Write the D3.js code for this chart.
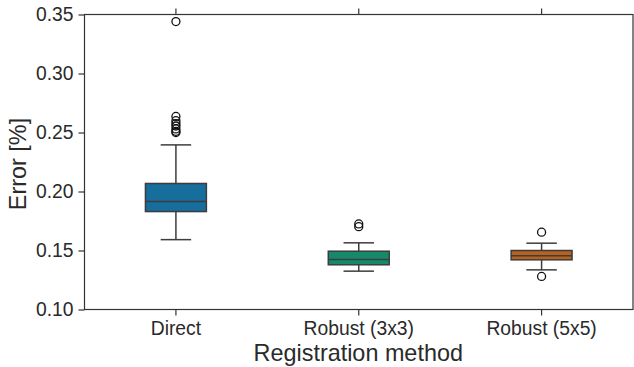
<!DOCTYPE html>
<html>
<head>
<meta charset="utf-8">
<script src="https://cdn.jsdelivr.net/npm/d3@7"></script>
<style>
  body { margin: 0; background: #fff; }
  svg text { font-family: "Liberation Sans", Arial, sans-serif; fill: #2a2a2a; }
</style>
</head>
<body>
<div id="chart"></div>
<script>
// Box statistics
const methods = ['Direct', 'Robust (3x3)', 'Robust (5x5)'];
const q1 = [0.1830, 0.1379, 0.1421];
const median = [0.1915, 0.1424, 0.1455];
const q3 = [0.2068, 0.1494, 0.1500];
const whiskerLow = [0.1592, 0.1325, 0.1336];
const whiskerHigh = [0.2395, 0.1565, 0.1562];
const outliers = [
  [0.3440, 0.2636, 0.2600, 0.2575, 0.2555, 0.2530, 0.2510, 0.2500],
  [0.1725, 0.1702],
  [0.1655, 0.1280]
];
const colors = ['#176d9c', '#158a6a', '#ba611b'];
const yTicks = [0.10, 0.15, 0.20, 0.25, 0.30, 0.35];

const W = 634, H = 367;
const margin = { top: 14.5, right: 1, bottom: 57.5, left: 84.5 };
const width = W - margin.left - margin.right;
const height = H - margin.top - margin.bottom;
const edge = '#3d3d3d';

const svg = d3.select('#chart').append('svg')
  .attr('width', W)
  .attr('height', H);

const g = svg.append('g')
  .attr('transform', `translate(${margin.left},${margin.top})`);

const x = d3.scaleBand()
  .domain(methods)
  .range([0, width]);

const y = d3.scaleLinear()
  .domain([0.10, 0.35])
  .range([height, 0]);

const boxW = x.bandwidth() / 3;

// Axes
const xAxis = g.append('g')
  .attr('transform', `translate(0,${height})`)
  .call(d3.axisBottom(x).tickSize(6).tickPadding(6));
xAxis.selectAll('text').style('font-size', '19.3px');

g.append('g')
  .call(d3.axisTop(x).tickSize(6).tickFormat(''));

const yAxis = g.append('g')
  .call(d3.axisLeft(y).tickValues(yTicks).tickSize(6).tickPadding(5).tickFormat(d3.format('.2f')));
yAxis.selectAll('text').style('font-size', '19.3px');

g.selectAll('.domain').remove();
g.selectAll('.tick line').attr('stroke', '#333').attr('stroke-width', 1.2);

// frame
g.append('rect')
  .attr('x', 0).attr('y', 0)
  .attr('width', width).attr('height', height)
  .attr('fill', 'none')
  .attr('stroke', '#333')
  .attr('stroke-width', 1.2);

// Boxes
methods.forEach((m, i) => {
  const cx = x(m) + x.bandwidth() / 2;
  const bg = g.append('g');

  bg.append('line')
    .attr('x1', cx).attr('x2', cx)
    .attr('y1', y(q3[i])).attr('y2', y(whiskerHigh[i]))
    .attr('stroke', edge).attr('stroke-width', 1.5);
  bg.append('line')
    .attr('x1', cx).attr('x2', cx)
    .attr('y1', y(q1[i])).attr('y2', y(whiskerLow[i]))
    .attr('stroke', edge).attr('stroke-width', 1.5);
  [whiskerHigh[i], whiskerLow[i]].forEach(v => {
    bg.append('line')
      .attr('x1', cx - boxW / 4).attr('x2', cx + boxW / 4)
      .attr('y1', y(v)).attr('y2', y(v))
      .attr('stroke', edge).attr('stroke-width', 1.5);
  });

  bg.append('rect')
    .attr('x', cx - boxW / 2)
    .attr('y', y(q3[i]))
    .attr('width', boxW)
    .attr('height', y(q1[i]) - y(q3[i]))
    .attr('fill', colors[i])
    .attr('stroke', edge).attr('stroke-width', 1.5);

  bg.append('line')
    .attr('x1', cx - boxW / 2).attr('x2', cx + boxW / 2)
    .attr('y1', y(median[i])).attr('y2', y(median[i]))
    .attr('stroke', edge).attr('stroke-width', 1.5);

  bg.selectAll('circle')
    .data(outliers[i])
    .enter()
    .append('circle')
      .attr('cx', cx)
      .attr('cy', d => y(d))
      .attr('r', 4)
      .attr('fill', 'none')
      .attr('stroke', '#111')
      .attr('stroke-width', 1.3);
});

// Axis labels
svg.append('text')
  .attr('text-anchor', 'middle')
  .attr('x', margin.left + width / 2 - 0.5)
  .attr('y', 361)
  .style('font-size', '23.4px')
  .text('Registration method');

svg.append('text')
  .attr('text-anchor', 'middle')
  .attr('transform', `translate(26,${margin.top + height / 2 + 2}) rotate(-90)`)
  .style('font-size', '23.4px')
  .text('Error [%]');
</script>
</body>
</html>
